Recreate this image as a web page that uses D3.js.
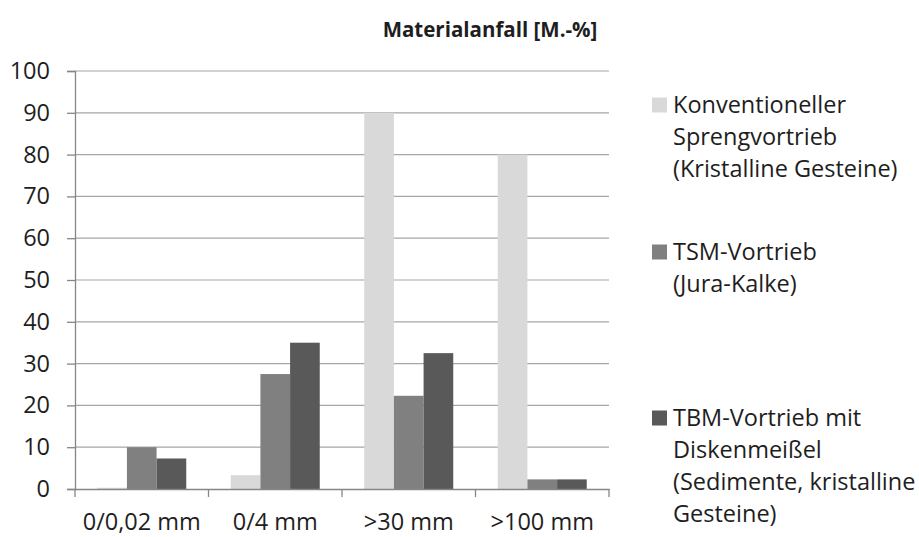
<!DOCTYPE html>
<html>
<head>
<meta charset="utf-8">
<script src="https://cdn.jsdelivr.net/npm/d3@7"></script>
<style>
  body { margin: 0; background: #fff; }
  text { font-family: "Open Sans", "Noto Sans", sans-serif; fill: #1e1e1e; }
</style>
</head>
<body>
<figure id="bar" style="margin:0"></figure>
<script>
// chart data
const categories = ['0/0,02 mm', '0/4 mm', '>30 mm', '>100 mm'];
const seriesNames = [
  ['Konventioneller', 'Sprengvortrieb', '(Kristalline Gesteine)'],
  ['TSM-Vortrieb', '(Jura-Kalke)'],
  ['TBM-Vortrieb mit', 'Diskenmeißel', '(Sedimente, kristalline', 'Gesteine)']
];
const sprengValues = [0.3, 3.3, 90, 80];
const tsmValues = [10, 27.5, 22.3, 2.3];
const tbmValues = [7.3, 35, 32.5, 2.3];
const yTicks = [0, 10, 20, 30, 40, 50, 60, 70, 80, 90, 100];
const colors = ['#d9d9d9', '#808080', '#595959'];

const seriesValues = [sprengValues, tsmValues, tbmValues];
const width = 919, height = 537;
const margin = { top: 71, right: 310, bottom: 48, left: 75 };
const plotW = width - margin.left - margin.right;
const plotH = height - margin.top - margin.bottom;
const fs = '23.5px';

const svg = d3.select('figure#bar').append('svg')
  .attr('width', width).attr('height', height);

svg.append('text')
  .attr('x', 490).attr('y', 37)
  .attr('text-anchor', 'middle')
  .style('font-weight', 'bold').style('font-size', '20.5px')
  .text('Materialanfall [M.-%]');

const g = svg.append('g')
  .attr('transform', 'translate(' + margin.left + ',' + margin.top + ')');

const x = d3.scaleBand().domain(categories).range([0, plotW]).padding(0);
const xs = d3.scaleBand().domain([0, 1, 2]).range([0, x.bandwidth()])
  .paddingInner(0).paddingOuter(0.75);
const y = d3.scaleLinear().domain([0, 100]).range([plotH, 0]);

// gridlines
g.append('g').selectAll('line').data(yTicks.filter(d => d > 0)).enter()
  .append('line')
  .attr('x1', 0).attr('x2', plotW)
  .attr('y1', d => y(d)).attr('y2', d => y(d))
  .attr('stroke', '#a6a6a6').attr('stroke-width', 1.2);

// y axis
const yAxis = g.append('g')
  .call(d3.axisLeft(y).tickValues(yTicks).tickSize(8).tickPadding(17));
yAxis.select('.domain').attr('stroke', '#868686').attr('stroke-width', 1.3);
yAxis.selectAll('.tick line').attr('stroke', '#868686').attr('stroke-width', 1.3);
yAxis.selectAll('text').style('font-size', fs).attr('fill', '#1e1e1e');

// bars
seriesValues.forEach((vals, si) => {
  g.append('g').selectAll('rect').data(vals).enter()
    .append('rect')
    .attr('x', (d, i) => x(categories[i]) + xs(si))
    .attr('y', d => y(d))
    .attr('width', xs.bandwidth())
    .attr('height', d => plotH - y(d))
    .attr('fill', colors[si]);
});

// x axis
const xAxis = g.append('g')
  .attr('transform', 'translate(0,' + plotH + ')')
  .call(d3.axisBottom(x).tickSize(0).tickPadding(24));
xAxis.select('.domain').attr('stroke', '#868686').attr('stroke-width', 1.3);
xAxis.selectAll('text').style('font-size', fs).attr('fill', '#1e1e1e');
g.append('g').selectAll('line').data(d3.range(categories.length + 1)).enter()
  .append('line')
  .attr('x1', d => d * x.step()).attr('x2', d => d * x.step())
  .attr('y1', plotH).attr('y2', plotH + 8)
  .attr('stroke', '#868686').attr('stroke-width', 1.3);

// legend
const legendTop = [105, 252, 418];
const lineH = 32;
seriesNames.forEach((lines, si) => {
  const lg = svg.append('g').attr('transform', 'translate(652,' + legendTop[si] + ')');
  lg.append('rect').attr('x', 0).attr('y', -7.5).attr('width', 15).attr('height', 15)
    .attr('fill', colors[si]);
  lines.forEach((t, li) => {
    lg.append('text').attr('x', 21).attr('y', li * lineH)
      .attr('dy', '0.35em').style('font-size', fs).text(t);
  });
});
</script>
</body>
</html>
